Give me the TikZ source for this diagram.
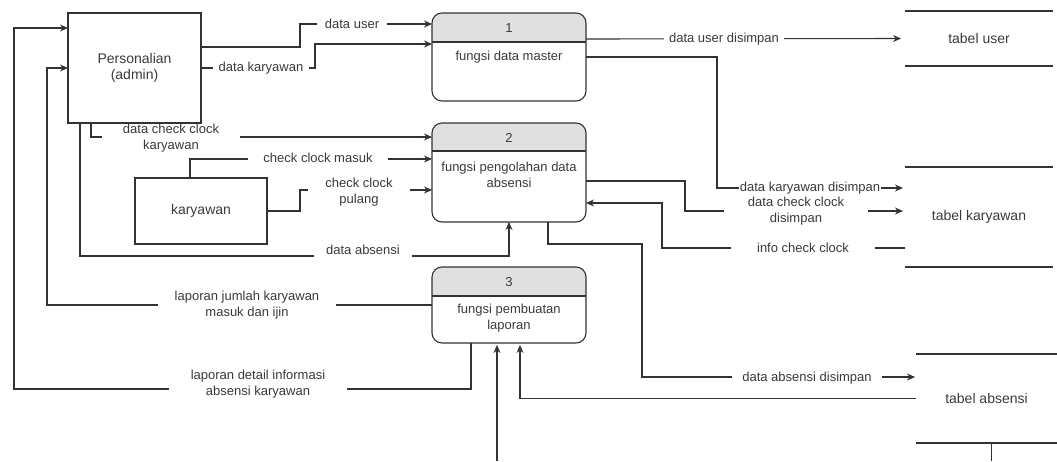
\documentclass[tikz,border=0pt]{standalone}
\usepackage{fontspec}
\setmainfont{Liberation Sans}
\usetikzlibrary{arrows.meta,calc}
\pgfdeclarelayer{bg}
\pgfsetlayers{bg,main}
\definecolor{ink}{HTML}{333333}
\definecolor{txt}{HTML}{3A3A3A}
\definecolor{hdr}{HTML}{E0E0E0}
\tikzset{
  ent/.style={draw=ink, line width=1.1pt, outer sep=0pt, inner sep=0pt, text=txt, align=center, font=\fontsize{14}{16}\selectfont},
  proc/.style={draw=ink, line width=1.1pt, rounded corners=10pt, outer sep=0pt, inner sep=0pt, minimum width=154pt,
    path picture={\fill[hdr, sharp corners] (path picture bounding box.north west) rectangle ([yshift=-#1]path picture bounding box.north east);}},
  divider/.style={draw=ink, line width=1.1pt},
  ptxt/.style={text=txt, align=center, inner sep=0pt, font=\fontsize{13}{15.5}\selectfont},
  store/.style={outer sep=0pt, inner sep=0pt, text=txt, font=\fontsize{14}{16}\selectfont},
  sline/.style={draw=ink, line width=1.8pt},
  flow/.style={draw=ink, line width=1.1pt, -{Stealth[length=8pt,width=7pt]}},
  lbl/.style={fill=white, text=txt, align=center, inner ysep=1pt, inner xsep=#1, font=\fontsize{13}{16}\selectfont},
  lbl/.default=6pt
}
\begin{document}
\begin{tikzpicture}[x=1pt,y=-1pt]
\useasboundingbox (0,0) rectangle (1057,461);
% external entities
\node[ent, minimum width=133pt, minimum height=110pt] (pers) at (134.5,68) {Personalian\\(admin)};
\node[ent, minimum width=132pt, minimum height=66pt] (kar) at (201,211) {karyawan};
% processes
\node[proc=29pt, minimum height=88pt] (p1) at (509,57) {};
\draw[divider] ([yshift=-29pt]p1.north west) -- ([yshift=-29pt]p1.north east);
\node[ptxt] (p1n) at (509,28) {1};
\node[ptxt] (p1t) at (509,57) {fungsi data master};
\node[proc=28pt, minimum height=99pt] (p2) at (509,172.5) {};
\draw[divider] ([yshift=-28pt]p2.north west) -- ([yshift=-28pt]p2.north east);
\node[ptxt] (p2n) at (509,138) {2};
\node[ptxt] (p2t) at (509,175) {fungsi pengolahan data\\absensi};
\node[proc=29pt, minimum height=76pt] (p3) at (509,305) {};
\draw[divider] ([yshift=-29pt]p3.north west) -- ([yshift=-29pt]p3.north east);
\node[ptxt] (p3n) at (509,282) {3};
\node[ptxt] (p3t) at (509,318) {fungsi pembuatan\\laporan};
% data stores
\node[store, minimum width=148pt, minimum height=55pt] (su) at (979,38.5) {tabel user};
\draw[sline] (su.north west) -- (su.north east) (su.south west) -- (su.south east);
\node[store, minimum width=148pt, minimum height=100pt] (sk) at (979,217) {tabel karyawan};
\draw[sline] (sk.north west) -- (sk.north east) (sk.south west) -- (sk.south east);
\node[store, minimum width=141pt, minimum height=89pt] (sa) at (986.5,398.5) {tabel absensi};
\draw[sline] (sa.north west) -- (sa.north east) (sa.south west) -- (sa.south east);
\draw[draw=ink, line width=1pt] (sa.south -| 991,0) -- (991,461);
\coordinate (bot) at (497,461);
\begin{pgfonlayer}{bg}
% connectors
\draw[flow] (pers.east |- 0,47) -- (300,47) |- (p1.west |- 0,24);
\draw[flow] (pers.east) -- (315,68) |- (p1.west |- 0,44);
\draw[flow, shorten >=4pt] (p1.east |- 0,39) -- (su.west);
\draw[flow, shorten >=2pt] (p1.east |- 0,57) -- (717,57) |- (sk.west |- 0,188);
\draw[flow] ([xshift=23pt]pers.south west) |- (p2.west |- 0,137);
\draw[flow] ([xshift=-11pt]kar.north) |- (p2.west |- 0,159);
\draw[flow] (kar.east) -- (300,211) |- (p2.west |- 0,190);
\draw[flow] ([xshift=12pt]pers.south west) |- (p2.south |- 0,256) -- (p2.south);
\draw[flow] (sk.west |- 0,248) -- (662,248) |- (p2.east |- 0,203);
\draw[flow, shorten >=2pt] (p2.east |- 0,181) -- (685,181) |- (sk.west |- 0,211);
\draw[flow, shorten >=1pt] ([xshift=39pt]p2.south) |- (642,244) |- (sa.west |- 0,377);
\draw[flow, shorten >=2pt] (sa.west) -| ([xshift=11pt]p3.south);
\draw[flow, shorten >=2pt] (bot) -- ([xshift=-12pt]p3.south);
\draw[flow] (p3.west |- 0,305) -- (47,305) |- (pers.west);
\draw[flow] ([xshift=-38pt]p3.south) |- (14,389) |- (pers.west |- 0,28);
% labels
\node[lbl=8pt] (l1) at (352,24) {data user};
\node[lbl=6pt] (l2) at (261,68) {data karyawan};
\node[lbl=5pt] (l3) at (724,39) {data user disimpan};
\node[lbl=1pt] (l4) at (810,188) {data karyawan disimpan};
\node[lbl=21pt] (l5) at (171,138) {data check clock\\karyawan};
\node[lbl=15pt] (l6) at (318,158) {check clock masuk};
\node[lbl=17pt] (l7) at (359,192) {check clock\\pulang};
\node[lbl=12pt, minimum height=17pt] (l8) at (363,250) {data absensi};
\node[lbl=26pt] (l9) at (803,248) {info check clock};
\node[lbl=24pt] (l10) at (796,211) {data check clock\\disimpan};
\node[lbl=10pt] (l11) at (807,378) {data absensi disimpan};
\node[lbl=17pt] (l14) at (247,305) {laporan jumlah karyawan\\masuk dan ijin};
\node[lbl=22pt] (l15) at (258,384) {laporan detail informasi\\absensi karyawan};
\end{pgfonlayer}
\end{tikzpicture}
\end{document}
